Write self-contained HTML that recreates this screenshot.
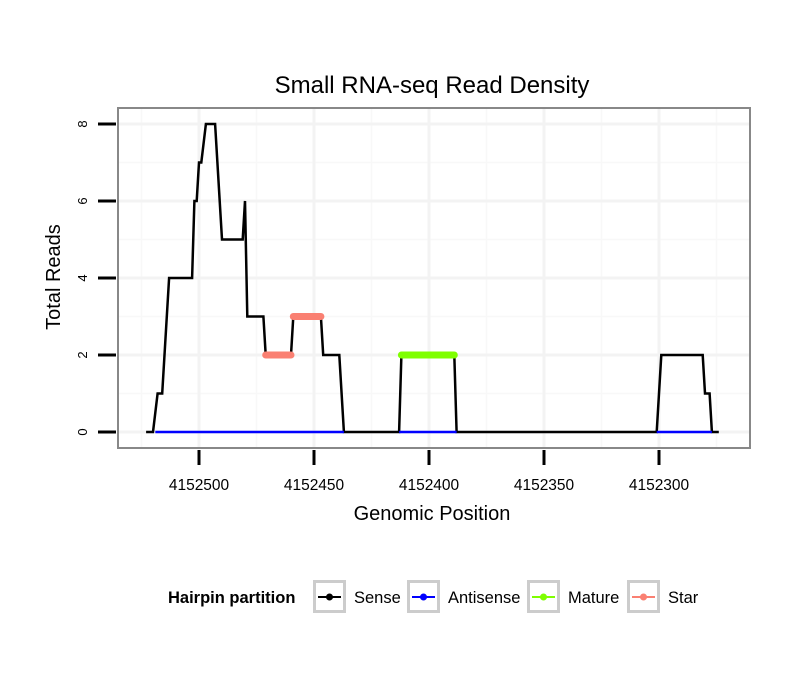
<!DOCTYPE html>
<html><head><meta charset="utf-8"><style>
body{margin:0;background:#fff;}
svg{display:block;font-family:"Liberation Sans",sans-serif;}
</style></head><body>
<svg id="chart" width="810" height="690">
<rect width="810" height="690" fill="#fff"/>
<text x="432" y="93" font-size="24" text-anchor="middle">Small RNA-seq Read Density</text>
<rect x="118" y="108" width="632" height="340" fill="#fff"/>
<g id="grid"></g>
<g id="marks"></g>
<rect x="118" y="108" width="632" height="340" fill="none" stroke="#888" stroke-width="2"/>
<g id="axes"></g>
<text x="432" y="520" font-size="20" text-anchor="middle">Genomic Position</text>
<text transform="translate(60,277) rotate(-90)" font-size="20" text-anchor="middle">Total Reads</text>
<g>
<text x="168" y="603" font-size="16.5" font-weight="bold">Hairpin partition</text>
<g id="legend"></g>
</g>
</svg>
<script>
const xTicks=[4152500,4152450,4152400,4152350,4152300];
const yTicks=[0,2,4,6,8];
const sensePos=[4152523,4152520,4152518,4152516,4152513,4152503,4152502,4152501,4152500,4152499,4152497,4152493,4152492,4152490,4152481,4152480,4152479,4152472,4152471,4152460,4152459,4152447,4152446,4152439,4152438,4152437,4152413,4152412,4152389,4152388,4152301,4152299,4152281,4152280,4152278,4152277,4152274];
const senseVal=[0,0,1,1,4,4,6,6,7,7,8,8,7,5,5,6,3,3,2,2,3,3,2,2,1,0,0,2,2,0,0,2,2,1,1,0,0];
const antisenseRanges=[[4152519,4152437],[4152413,4152388],[4152301,4152277]];
const starStart=[4152471,4152459];
const starEnd=[4152460,4152447];
const starVal=[2,3];
const matureStart=[4152412];
const matureEnd=[4152389];
const matureVal=[2];
const legendLabels=["Sense","Antisense","Mature","Star"];
const legendColors=["#000","#00f","#7fff00","#fa8072"];

const NS="http://www.w3.org/2000/svg";
const X=v=>199+(4152500-v)*2.3;
const Y=v=>432-v*38.5;
function mk(tag,attrs,parent){const e=document.createElementNS(NS,tag);for(const k in attrs)e.setAttribute(k,attrs[k]);parent.appendChild(e);return e;}
const grid=document.getElementById('grid'),marks=document.getElementById('marks'),axes=document.getElementById('axes'),leg=document.getElementById('legend');
for(let i=0;i<yTicks.length-1;i++){const yy=Y((yTicks[i]+yTicks[i+1])/2);const l=mk('line',{x1:118,x2:750,y1:yy,y2:yy,stroke:'#f8f8f8','stroke-width':1.5},grid);

}
for(let i=-1;i<xTicks.length;i++){const xv=X(xTicks[0]+25-(i+1)*50);if(xv<118||xv>750)continue;const l=mk('line',{x1:xv,x2:xv,y1:108,y2:448,stroke:'#f8f8f8','stroke-width':1.5},grid);

}
yTicks.forEach(t=>{const l=mk('line',{x1:118,x2:750,y1:Y(t),y2:Y(t),stroke:'#f3f3f3','stroke-width':3},grid);


const tk=mk('line',{x1:98,x2:116,y1:Y(t),y2:Y(t),stroke:'#000','stroke-width':3},axes);


const tx=mk('text',{transform:`translate(87,${Y(t)}) rotate(-90)`,'font-size':13,'text-anchor':'middle'},axes);tx.textContent=t;

});
xTicks.forEach(t=>{const l=mk('line',{x1:X(t),x2:X(t),y1:108,y2:448,stroke:'#f3f3f3','stroke-width':3},grid);


const tk=mk('line',{x1:X(t),x2:X(t),y1:450,y2:465,stroke:'#000','stroke-width':3},axes);


const tx=mk('text',{x:X(t),y:490,'font-size':15.5,'text-anchor':'middle'},axes);tx.textContent=t;

});
const pl=mk('polyline',{points:sensePos.map((p,i)=>X(p)+','+Y(senseVal[i])).join(' '),fill:'none',stroke:'#000','stroke-width':2.5,'stroke-linejoin':'miter'},marks);


antisenseRanges.forEach(r=>{const l=mk('line',{x1:X(r[0]),x2:X(r[1]),y1:Y(0),y2:Y(0),stroke:'#00f','stroke-width':2.5},marks);

});
matureStart.forEach((s,i)=>{const l=mk('line',{x1:X(s),x2:X(matureEnd[i]),y1:Y(matureVal[i]),y2:Y(matureVal[i]),stroke:'#7fff00','stroke-width':7,'stroke-linecap':'round'},marks);

});
starStart.forEach((s,i)=>{const l=mk('line',{x1:X(s),x2:X(starEnd[i]),y1:Y(starVal[i]),y2:Y(starVal[i]),stroke:'#fa8072','stroke-width':7,'stroke-linecap':'round'},marks);

});
const lx=[313,407,527,627];
legendLabels.forEach((lab,i)=>{const g=mk('g',{},leg);


mk('rect',{x:lx[i]+1.5,y:581.5,width:30,height:30,fill:'#fff',stroke:'#ccc','stroke-width':3},g);
mk('line',{x1:lx[i]+5,x2:lx[i]+28,y1:597,y2:597,stroke:legendColors[i],'stroke-width':2},g);
mk('circle',{cx:lx[i]+16.5,cy:597,r:3.5,fill:legendColors[i]},g);
const t=mk('text',{x:lx[i]+41,y:603,'font-size':16.5},g);t.textContent=lab;});
</script>
</body></html>
